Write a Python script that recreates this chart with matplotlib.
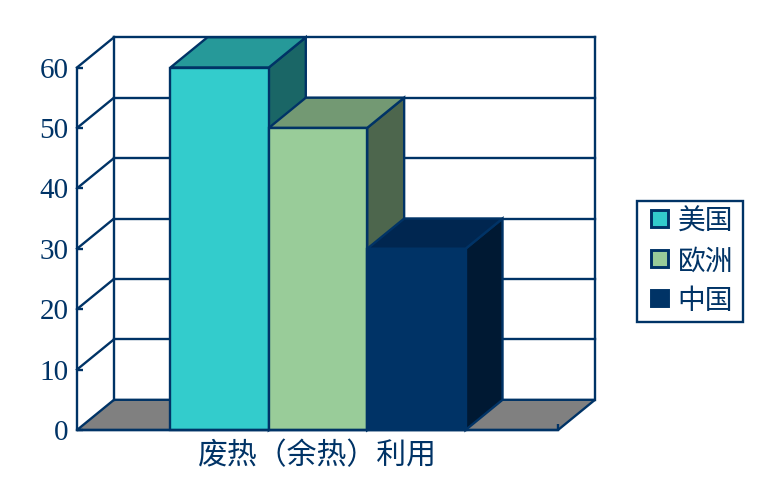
import matplotlib
matplotlib.use("Agg")
import matplotlib.pyplot as plt
from matplotlib.patches import Patch, Rectangle
from matplotlib.legend_handler import HandlerPatch

plt.rcParams['font.family'] = ['Noto Sans CJK SC', 'DejaVu Sans']

## chart data
category = "废热（余热）利用"
series = ["美国", "欧洲", "中国"]
values = [60, 50, 30]
yticks = [0, 10, 20, 30, 40, 50, 60]

## styles
navy = "#003366"
front = ["#33CCCC", "#99CC99", "#003366"]
top = ["#269999", "#739973", "#002650"]
side = ["#1A6666", "#4D664D", "#001933"]
floor = "#808080"
lw = 1.7
w = 1.0  # bar width
dx = 0.376  # depth offset, x units
dy = 5.0  # depth offset, y units
x0, x1 = -1.45, 3.44

fig = plt.figure(figsize=(7.66, 5), dpi=100)
ax = fig.add_axes([77 / 766, 1 - 430 / 500, (558 - 77) / 766, (430 - 67.5) / 500])
ax.set_xlim(x0, x1)
ax.set_ylim(0, 60)


def poly(xs, ys, color, edge=navy, z=2):
    ax.fill(xs, ys, facecolor=color, edgecolor=edge, lw=lw, clip_on=False, zorder=z, joinstyle="miter")


def square(legend, orig_handle, xdescent, ydescent, width, height, fontsize):
    # small square pushed to the right of the handle box
    return Rectangle((width - 12, (height - 12) / 2 + 1), 12, 12)


## floor and walls
poly([x0, x1, x1 + dx, x0 + dx], [0, 0, dy, dy], floor, z=1)
for t in yticks[1:]:
    ax.plot([x0, x0 + dx], [t, t + dy], color=navy, lw=lw, clip_on=False, zorder=1)
    ax.plot([x0 + dx, x1 + dx], [t + dy, t + dy], color=navy, lw=lw, clip_on=False, zorder=1)
ax.plot([x0 + dx, x0 + dx], [dy, 60 + dy], color=navy, lw=lw, clip_on=False, zorder=1)
ax.plot([x1 + dx, x1 + dx], [dy, 60 + dy], color=navy, lw=lw, clip_on=False, zorder=1)

## bars: front, top and side faces
for i, v in enumerate(values):
    l = i - w / 2
    r = i + w / 2
    poly([r, r + dx, r + dx, r], [0, dy, v + dy, v], side[i], z=3 + i)
    poly([l, r, r + dx, l + dx], [v, v, v + dy, v + dy], top[i], z=3 + i)
    poly([l, r, r, l], [0, 0, v, v], front[i], z=3 + i)

## axes
for name in ["top", "right"]:
    ax.spines[name].set_visible(False)
for name in ["left", "bottom"]:
    ax.spines[name].set_color(navy)
    ax.spines[name].set_linewidth(lw)
    ax.spines[name].set_zorder(10)
ax.set_yticks(yticks)
ax.set_yticklabels([str(t) for t in yticks], family="Liberation Serif", fontsize=21, color=navy)
ax.tick_params(axis="y", direction="in", length=4, width=lw, color=navy, pad=6)
ax.set_xticks([x1])
ax.set_xticklabels([""])
ax.tick_params(axis="x", direction="in", length=4, width=lw, color=navy)
ax.text(0.99, -4.2, category, fontsize=21.5, color=navy, ha="center", va="center", zorder=10)
ax.patch.set_alpha(0)

## legend
handles = [Patch(facecolor=c, edgecolor=navy, lw=lw + 0.4) for c in front]
leg = fig.legend(handles, series, loc="upper left",
                 bbox_to_anchor=(637 / 766, 1 - 320 / 500, 106 / 766, 119 / 500), mode="expand",
                 prop={"size": 20}, labelcolor=navy, fancybox=False, framealpha=1,
                 edgecolor=navy, handlelength=0.9, handleheight=0.7, handletextpad=0.36,
                 labelspacing=0.35, borderpad=0.2, borderaxespad=0,
                 handler_map={Patch: HandlerPatch(patch_func=square)})
leg.get_frame().set_linewidth(lw)

fig.savefig("out.png", dpi=100)
